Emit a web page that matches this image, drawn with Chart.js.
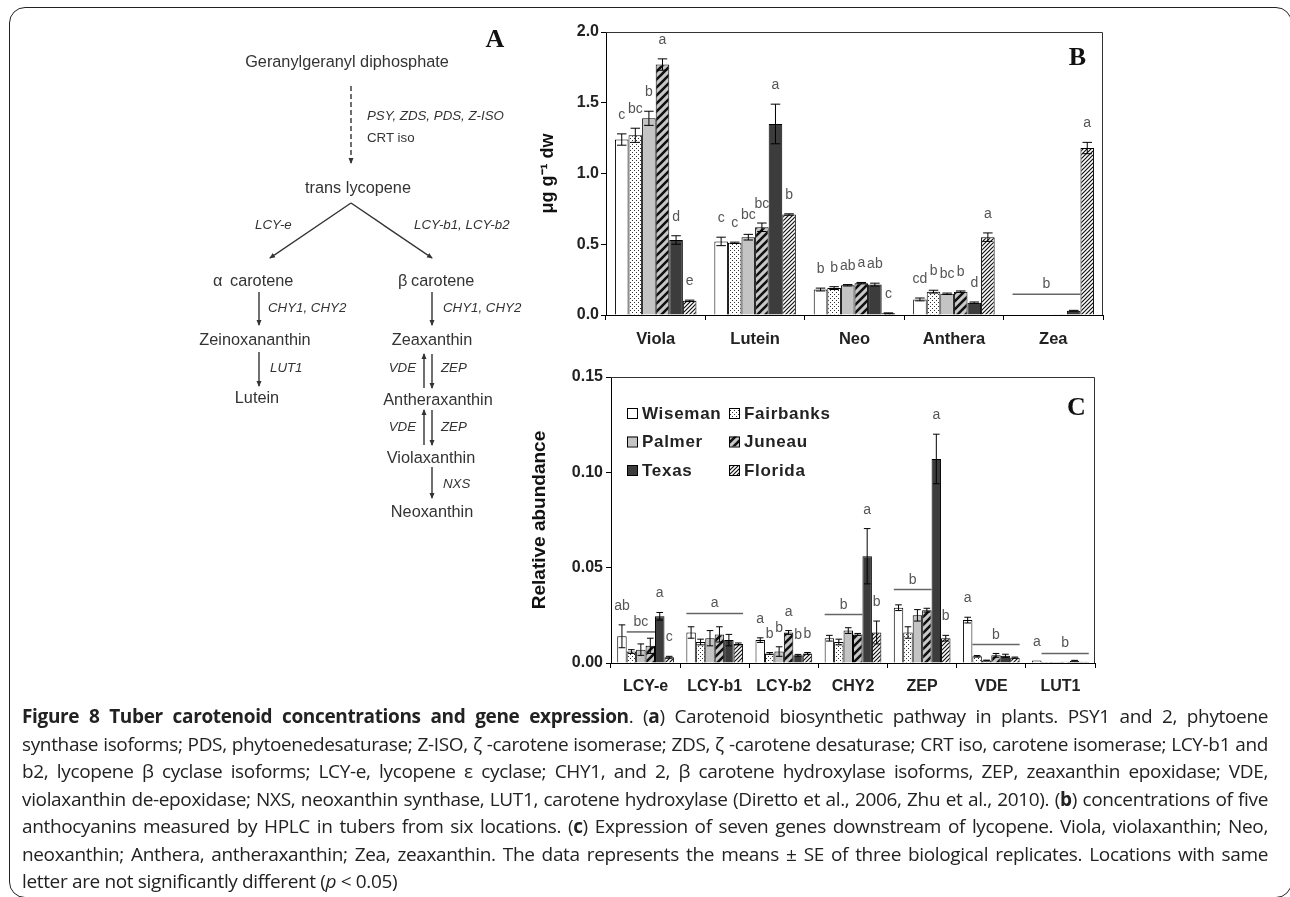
<!DOCTYPE html>
<html>
<head>
<meta charset="utf-8">
<script src="https://cdn.jsdelivr.net/npm/chart.js@4.4.1/dist/chart.umd.min.js"></script>
<style>
  html, body { margin: 0; padding: 0; background: #fff; }
  body { width: 1290px; height: 897px; position: relative; overflow: hidden; font-family: "Liberation Sans", Arial, sans-serif; }
  .frame { position: absolute; left: 9px; top: 7px; width: 1283px; height: 891px; box-sizing: border-box; border: 1.7px solid #222; border-radius: 16px; }
  .chartbox { position: absolute; }
  #overlay { position: absolute; left: 0; top: 0; pointer-events: none; }
  .caption { position: absolute; left: 22px; top: 703px; width: 1246px; font-family: "Open Sans", sans-serif; font-size: 19px; letter-spacing: -0.35px; line-height: 27.5px; color: #222; }
  .caption div { white-space: nowrap; text-align: justify; text-align-last: justify; }
  .caption div.last { text-align-last: left; }
</style>
</head>
<body>
<div class="frame"></div>

<div class="chartbox" style="left:500px; top:20px;"><canvas id="chartB" width="610" height="345"></canvas></div>
<div class="chartbox" style="left:500px; top:360px;"><canvas id="chartC" width="610" height="345"></canvas></div>

<svg id="overlay" width="1290" height="700" xmlns="http://www.w3.org/2000/svg">
  <defs>
    <marker id="ah" markerWidth="6" markerHeight="6" refX="5" refY="3" orient="auto" markerUnits="userSpaceOnUse">
      <path d="M0,0.5 L6,3 L0,5.5 z" fill="#333"/>
    </marker>
  </defs>
  <g stroke="#333" stroke-width="1.4" fill="none">
    <line x1="351" y1="86" x2="351" y2="163" stroke-dasharray="5 3" marker-end="url(#ah)"/>
    <line x1="351" y1="203" x2="270" y2="258" marker-end="url(#ah)"/>
    <line x1="351" y1="203" x2="432" y2="258" marker-end="url(#ah)"/>
    <line x1="259" y1="292" x2="259" y2="325" marker-end="url(#ah)"/>
    <line x1="432" y1="292" x2="432" y2="325" marker-end="url(#ah)"/>
    <line x1="259" y1="352" x2="259" y2="386" marker-end="url(#ah)"/>
    <line x1="424" y1="388" x2="424" y2="354" marker-end="url(#ah)"/>
    <line x1="432" y1="354" x2="432" y2="388" marker-end="url(#ah)"/>
    <line x1="424" y1="445" x2="424" y2="410" marker-end="url(#ah)"/>
    <line x1="432" y1="410" x2="432" y2="445" marker-end="url(#ah)"/>
    <line x1="432" y1="467" x2="432" y2="498" marker-end="url(#ah)"/>
  </g>
  <g font-family="Liberation Sans, Arial, sans-serif" fill="#333" font-size="16.3">
    <text x="347" y="67" text-anchor="middle">Geranylgeranyl diphosphate</text>
    <text x="358" y="192.5" text-anchor="middle">trans lycopene</text>
    <text x="213" y="285.5">α</text>
    <text x="230" y="285.5">carotene</text>
    <text x="398" y="285.5">β</text>
    <text x="411" y="285.5">carotene</text>
    <text x="255" y="344.5" text-anchor="middle">Zeinoxananthin</text>
    <text x="432" y="344.5" text-anchor="middle">Zeaxanthin</text>
    <text x="257" y="402.5" text-anchor="middle">Lutein</text>
    <text x="438" y="404.5" text-anchor="middle">Antheraxanthin</text>
    <text x="431" y="462.5" text-anchor="middle">Violaxanthin</text>
    <text x="432" y="516.5" text-anchor="middle">Neoxanthin</text>
  </g>
  <g font-family="Liberation Sans, Arial, sans-serif" fill="#333" font-size="13.3" font-style="italic">
    <text x="367" y="119.5">PSY, ZDS, PDS, Z-ISO</text>
    <text x="367" y="141.5" font-style="normal">CRT iso</text>
    <text x="255" y="228.5">LCY-e</text>
    <text x="414" y="228.5">LCY-b1, LCY-b2</text>
    <text x="268" y="311.5">CHY1, CHY2</text>
    <text x="443" y="311.5">CHY1, CHY2</text>
    <text x="270" y="371.5">LUT1</text>
    <text x="416" y="371.5" text-anchor="end">VDE</text>
    <text x="441" y="371.5">ZEP</text>
    <text x="416" y="430.5" text-anchor="end">VDE</text>
    <text x="441" y="430.5">ZEP</text>
    <text x="443" y="487.5">NXS</text>
  </g>
  <g font-family="Liberation Serif, serif" font-weight="bold" font-size="26" fill="#111" text-anchor="middle">
    <text x="495" y="47">A</text>
    <text x="1077.5" y="65">B</text>
    <text x="1076.5" y="415">C</text>
  </g>
</svg>

<div class="caption">
<div><b>Figure 8 Tuber carotenoid concentrations and gene expression</b>. (<b>a</b>) Carotenoid biosynthetic pathway in plants. PSY1 and 2, phytoene</div>
<div>synthase isoforms; PDS, phytoenedesaturase; Z-ISO, ζ -carotene isomerase; ZDS, ζ -carotene desaturase; CRT iso, carotene isomerase; LCY-b1 and</div>
<div>b2, lycopene β cyclase isoforms; LCY-e, lycopene ε cyclase; CHY1, and 2, β carotene hydroxylase isoforms, ZEP, zeaxanthin epoxidase; VDE,</div>
<div>violaxanthin de-epoxidase; NXS, neoxanthin synthase, LUT1, carotene hydroxylase (Diretto et al., 2006, Zhu et al., 2010). (<b>b</b>) concentrations of five</div>
<div>anthocyanins measured by HPLC in tubers from six locations. (<b>c</b>) Expression of seven genes downstream of lycopene. Viola, violaxanthin; Neo,</div>
<div>neoxanthin; Anthera, antheraxanthin; Zea, zeaxanthin. The data represents the means ± SE of three biological replicates. Locations with same</div>
<div class="last">letter are not significantly different (<i>p</i> &lt; 0.05)</div>
</div>

<script>
const locations = ['Wiseman', 'Fairbanks', 'Palmer', 'Juneau', 'Texas', 'Florida'];

// Panel B: carotenoid concentrations (ug g-1 dw)
const categoriesB = ['Viola', 'Lutein', 'Neo', 'Anthera', 'Zea'];
const wisemanB   = [1.24, 0.52, 0.18, 0.11, 0.004];
const fairbanksB = [1.27, 0.51, 0.19, 0.165, 0.004];
const palmerB    = [1.39, 0.55, 0.21, 0.15, 0.004];
const juneauB    = [1.77, 0.62, 0.225, 0.165, 0.006];
const texasB     = [0.53, 1.35, 0.215, 0.087, 0.03];
const floridaB   = [0.10, 0.71, 0.012, 0.55, 1.18];

const wisemanErrB   = [0.04, 0.03, 0.01, 0.01, 0];
const fairbanksErrB = [0.05, 0.005, 0.01, 0.01, 0];
const palmerErrB    = [0.05, 0.02, 0.005, 0.005, 0];
const juneauErrB    = [0.04, 0.03, 0.005, 0.005, 0];
const texasErrB     = [0.03, 0.14, 0.01, 0.005, 0.003];
const floridaErrB   = [0.005, 0.005, 0.003, 0.03, 0.04];

const wisemanLetB   = ['c', 'c', 'b', 'cd', ''];
const fairbanksLetB = ['bc', 'c', 'b', 'b', ''];
const palmerLetB    = ['b', 'bc', 'ab', 'bc', ''];
const juneauLetB    = ['a', 'bc', 'a', 'b', ''];
const texasLetB     = ['d', 'a', 'ab', 'd', ''];
const floridaLetB   = ['e', 'b', 'c', 'a', 'a'];

// [category, first location, last location, line level, letter]
const groupLettersB = [[4, 0, 4, 0.146, 'b']];

// Panel C: relative abundance of gene transcripts
const categoriesC = ['LCY-e', 'LCY-b1', 'LCY-b2', 'CHY2', 'ZEP', 'VDE', 'LUT1'];
const wisemanC   = [0.014, 0.016, 0.012, 0.013, 0.029, 0.0225, 0.0013];
const fairbanksC = [0.006, 0.011, 0.005, 0.011, 0.016, 0.0035, 0.0005];
const palmerC    = [0.007, 0.013, 0.006, 0.017, 0.025, 0.0013, 0.0005];
const juneauC    = [0.009, 0.015, 0.016, 0.015, 0.0277, 0.004, 0.0007];
const texasC     = [0.0245, 0.012, 0.004, 0.056, 0.107, 0.0038, 0.0012];
const floridaC   = [0.003, 0.010, 0.005, 0.016, 0.013, 0.0028, 0.0006];

const wisemanErrC   = [0.006, 0.003, 0.0012, 0.0015, 0.0015, 0.0015, 0];
const fairbanksErrC = [0.001, 0.0015, 0.0005, 0.0015, 0.003, 0.0004, 0];
const palmerErrC    = [0.003, 0.004, 0.0025, 0.0015, 0.003, 0.0002, 0];
const juneauErrC    = [0.004, 0.004, 0.001, 0.0005, 0.001, 0.001, 0];
const texasErrC     = [0.002, 0.003, 0.0005, 0.0145, 0.013, 0.0008, 0.0002];
const floridaErrC   = [0.0005, 0.0005, 0.0005, 0.006, 0.0015, 0.0003, 0];

const wisemanLetC   = ['ab', '', 'a', '', '', 'a', 'a'];
const fairbanksLetC = ['', '', 'b', '', '', '', ''];
const palmerLetC    = ['', '', 'b', '', '', '', ''];
const juneauLetC    = ['', '', 'a', '', '', '', ''];
const texasLetC     = ['a', '', 'b', 'a', 'a', '', ''];
const floridaLetC   = ['c', '', 'b', 'b', 'b', '', ''];

const groupLettersC = [
  [0, 1, 3, 0.0163, 'bc'],
  [1, 0, 5, 0.026, 'a'],
  [3, 0, 3, 0.0254, 'b'],
  [4, 0, 3, 0.0385, 'b'],
  [5, 1, 5, 0.0097, 'b'],
  [6, 1, 5, 0.005, 'b']
];

Chart.defaults.font.family = '"Liberation Sans", Arial, sans-serif';
Chart.defaults.color = '#222';

// Hatch / dot fills
function stripes(bg, color, size, width) {
  const c = document.createElement('canvas');
  c.width = size; c.height = size;
  const g = c.getContext('2d');
  g.fillStyle = bg;
  g.fillRect(0, 0, size, size);
  g.strokeStyle = color;
  g.lineWidth = width;
  g.beginPath();
  g.moveTo(0, size); g.lineTo(size, 0);
  g.moveTo(-size / 2, size / 2); g.lineTo(size / 2, -size / 2);
  g.moveTo(size / 2, size * 1.5); g.lineTo(size * 1.5, size / 2);
  g.stroke();
  return g.createPattern(c, 'repeat');
}

function dots(bg, color) {
  const c = document.createElement('canvas');
  c.width = 4; c.height = 4;
  const g = c.getContext('2d');
  g.fillStyle = bg;
  g.fillRect(0, 0, 4, 4);
  g.fillStyle = color;
  g.fillRect(0, 0, 1, 1);
  g.fillRect(2, 2, 1, 1);
  return g.createPattern(c, 'repeat');
}

const fills = [
  '#ffffff',
  dots('#ffffff', '#333'),
  '#c4c4c4',
  stripes('#c8c8c8', '#111', 8, 2.6),
  '#3c3c3c',
  stripes('#ffffff', '#111', 4, 1.2)
];

// Error bars, letters, group lines, frame and the in-plot legend
const extrasPlugin = {
  id: 'extras',
  afterDatasetsDraw(chart, args, opts) {
    const { ctx, scales: { y } } = chart;
    ctx.save();
    chart.data.datasets.forEach((ds, i) => {
      const meta = chart.getDatasetMeta(i);
      meta.data.forEach((bar, j) => {
        const v = ds.data[j];
        const e = opts.errors[i][j];
        const top = y.getPixelForValue(v + e);
        if (e > 0) {
          const bot = y.getPixelForValue(Math.max(0, v - e));
          const half = bar.width * 0.35;
          ctx.strokeStyle = '#000';
          ctx.lineWidth = 1;
          ctx.beginPath();
          ctx.moveTo(bar.x, top); ctx.lineTo(bar.x, bot);
          ctx.moveTo(bar.x - half, top); ctx.lineTo(bar.x + half, top);
          ctx.moveTo(bar.x - half, bot); ctx.lineTo(bar.x + half, bot);
          ctx.stroke();
        }
        const letter = opts.letters[i][j];
        if (letter) {
          ctx.fillStyle = '#555';
          ctx.font = '14px "Liberation Sans", Arial, sans-serif';
          ctx.textAlign = 'center';
          ctx.textBaseline = 'alphabetic';
          ctx.fillText(letter, bar.x, top - 15);
        }
      });
    });
    opts.groups.forEach(([cat, from, to, level, text]) => {
      const a = chart.getDatasetMeta(from).data[cat];
      const b = chart.getDatasetMeta(to).data[cat];
      const x0 = a.x - a.width / 2;
      const x1 = b.x + b.width / 2;
      const yy = y.getPixelForValue(level);
      ctx.strokeStyle = '#666';
      ctx.lineWidth = 1.5;
      ctx.beginPath();
      ctx.moveTo(x0, yy); ctx.lineTo(x1, yy);
      ctx.stroke();
      ctx.fillStyle = '#555';
      ctx.font = '14px "Liberation Sans", Arial, sans-serif';
      ctx.textAlign = 'center';
      ctx.textBaseline = 'alphabetic';
      ctx.fillText(text, (x0 + x1) / 2, yy - 6);
    });
    ctx.restore();
  },
  afterDraw(chart, args, opts) {
    const { ctx, chartArea } = chart;
    ctx.save();
    ctx.strokeStyle = '#333';
    ctx.lineWidth = 1;
    ctx.beginPath();
    ctx.moveTo(chartArea.left, chartArea.top + 0.5);
    ctx.lineTo(chartArea.right - 0.5, chartArea.top + 0.5);
    ctx.lineTo(chartArea.right - 0.5, chartArea.bottom);
    ctx.stroke();
    if (opts.legend) {
      ctx.font = 'bold 17px "Liberation Sans", Arial, sans-serif';
      ctx.letterSpacing = '0.7px';
      ctx.textAlign = 'left';
      ctx.textBaseline = 'middle';
      chart.data.datasets.forEach((ds, i) => {
        const bx = chartArea.left + 16 + (i % 2) * 102;
        const cy = chartArea.top + 36 + Math.floor(i / 2) * 28.5;
        ctx.fillStyle = ds.backgroundColor;
        ctx.fillRect(bx, cy - 5, 10, 10);
        ctx.strokeStyle = '#000';
        ctx.strokeRect(bx + 0.5, cy - 4.5, 10, 10);
        ctx.fillStyle = '#222';
        ctx.fillText(ds.label, bx + 15, cy + 1);
      });
    }
    ctx.restore();
  }
};

function makeDatasets(series) {
  return series.map((data, i) => ({
    label: locations[i],
    data,
    backgroundColor: fills[i],
    borderColor: '#000',
    borderWidth: 1,
    categoryPercentage: 0.82,
    barPercentage: 1
  }));
}

function makeChart(id, labels, series, cfg) {
  return new Chart(document.getElementById(id).getContext('2d'), {
    type: 'bar',
    data: { labels, datasets: makeDatasets(series) },
    options: {
      responsive: false,
      animation: false,
      events: [],
      layout: { padding: cfg.padding },
      plugins: {
        legend: { display: false },
        tooltip: { enabled: false },
        extras: { errors: cfg.errors, letters: cfg.letters, groups: cfg.groups, legend: cfg.legend }
      },
      scales: {
        x: {
          offset: true,
          grid: { display: true, offset: true, drawOnChartArea: false, tickLength: 5, color: '#000' },
          border: { display: true, color: '#000', width: 1 },
          ticks: { font: { size: cfg.xFont, weight: 'bold' }, color: '#222', padding: cfg.xPad },
          afterFit(scale) { scale.height = cfg.xHeight; }
        },
        y: {
          min: 0,
          max: cfg.max,
          ticks: {
            stepSize: cfg.step,
            font: { size: 16, weight: 'bold' },
            color: '#222',
            padding: cfg.yPad,
            callback: v => v.toFixed(cfg.digits)
          },
          grid: { display: true, drawOnChartArea: false, tickLength: cfg.tick, color: '#000' },
          border: { display: true, color: '#000', width: 1 },
          title: {
            display: true,
            text: cfg.title,
            font: { size: cfg.titleSize, weight: 'bold' },
            color: '#111',
            padding: { top: cfg.titlePad, bottom: 0 }
          },
          afterFit(scale) { scale.width = cfg.yWidth; }
        }
      }
    },
    plugins: [extrasPlugin]
  });
}

window.addEventListener('DOMContentLoaded', () => {
  makeChart('chartB', categoriesB,
    [wisemanB, fairbanksB, palmerB, juneauB, texasB, floridaB], {
      padding: { left: 0, top: 12, right: 7, bottom: 0 },
      errors: [wisemanErrB, fairbanksErrB, palmerErrB, juneauErrB, texasErrB, floridaErrB],
      letters: [wisemanLetB, fairbanksLetB, palmerLetB, juneauLetB, texasLetB, floridaLetB],
      groups: groupLettersB,
      legend: false,
      max: 2.0, step: 0.5, digits: 1,
      title: 'μg g⁻¹ dw', titleSize: 18, titlePad: 37,
      yWidth: 106, yPad: 2, tick: 5,
      xHeight: 50, xFont: 16.5, xPad: 10
    });

  makeChart('chartC', categoriesC,
    [wisemanC, fairbanksC, palmerC, juneauC, texasC, floridaC], {
      padding: { left: 0, top: 17, right: 15, bottom: 0 },
      errors: [wisemanErrC, fairbanksErrC, palmerErrC, juneauErrC, texasErrC, floridaErrC],
      letters: [wisemanLetC, fairbanksLetC, palmerLetC, juneauLetC, texasLetC, floridaLetC],
      groups: groupLettersC,
      legend: true,
      max: 0.15, step: 0.05, digits: 2,
      title: 'Relative abundance', titleSize: 19, titlePad: 28,
      yWidth: 111, yPad: 3, tick: 5,
      xHeight: 42, xFont: 16, xPad: 9
    });
});
</script>
</body>
</html>
